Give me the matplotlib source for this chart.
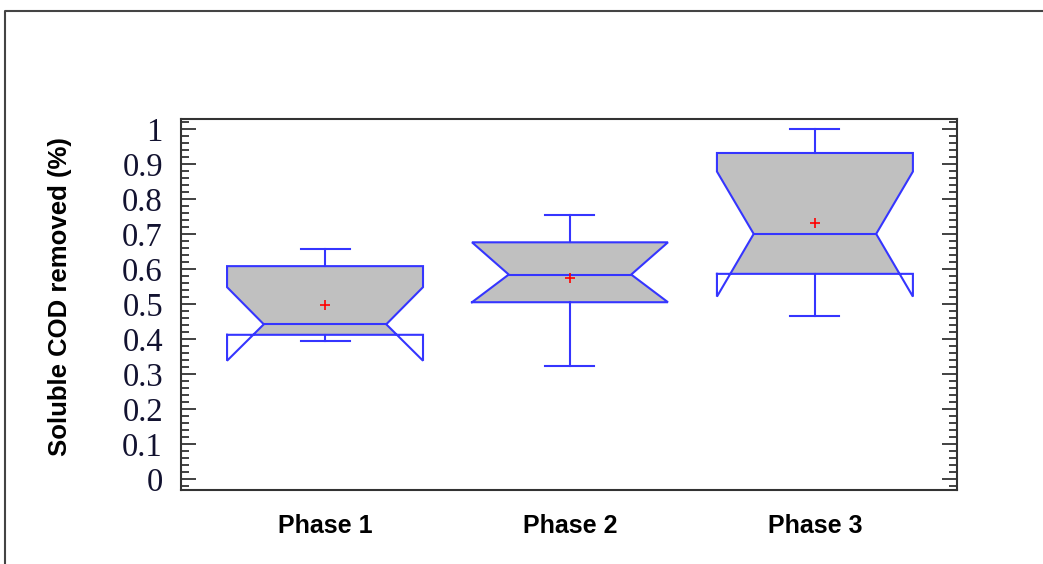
import matplotlib
matplotlib.use("Agg")
import matplotlib.pyplot as plt
from matplotlib.lines import Line2D
from matplotlib.patches import Rectangle
from matplotlib.ticker import MultipleLocator

phases = ['Phase 1', 'Phase 2', 'Phase 3']
whislo = [0.396, 0.325, 0.467]
q1 = [0.413, 0.506, 0.587]
med = [0.443, 0.585, 0.701]
q3 = [0.609, 0.677, 0.932]
whishi = [0.657, 0.755, 1.0]
cilo = [0.339, 0.506, 0.522]
cihi = [0.549, 0.677, 0.879]
means = [0.498, 0.576, 0.731]
yticks = [0, 0.1, 0.2, 0.3, 0.4, 0.5, 0.6, 0.7, 0.8, 0.9, 1]
ytick_labels = ['0', '0.1', '0.2', '0.3', '0.4', '0.5', '0.6', '0.7', '0.8', '0.9', '1']

BLUE = '#3535ff'
FILL = '#c0c0c0'

fig = plt.figure(figsize=(10.43, 5.64), dpi=100)
ax = fig.add_axes([181/1043, 1-490/564, (957-181)/1043, (490-119)/564])

box_w = 0.8
notch_w = 0.5
cap_w = 0.2
for i, pos in enumerate(range(1, len(phases)+1)):
    L, R = pos - box_w/2, pos + box_w/2
    nL, nR = pos - notch_w/2, pos + notch_w/2
    xs = [L, R, R, nR, R, R, L, L, nL, L, L]
    ys = [q1[i], q1[i], cilo[i], med[i], cihi[i], q3[i], q3[i], cihi[i], med[i], cilo[i], q1[i]]
    clip = Rectangle((L, q1[i]), box_w, q3[i]-q1[i], transform=ax.transData)
    polys = ax.fill(xs, ys, color=FILL, lw=0, zorder=1)
    for p in polys:
        p.set_clip_path(clip)
    ax.plot(xs, ys, color=BLUE, lw=1.5, zorder=3, solid_joinstyle='miter')
    ax.plot([nL, nR], [med[i], med[i]], color=BLUE, lw=1.5, zorder=3)
    # whiskers
    ax.plot([pos, pos], [q3[i], whishi[i]], color=BLUE, lw=1.5, zorder=2)
    ax.plot([pos, pos], [q1[i], whislo[i]], color=BLUE, lw=1.5, zorder=2)
    ax.plot([pos-cap_w/2, pos+cap_w/2], [whishi[i]]*2, color=BLUE, lw=1.5, zorder=2)
    ax.plot([pos-cap_w/2, pos+cap_w/2], [whislo[i]]*2, color=BLUE, lw=1.5, zorder=2)
    ax.plot(pos, means[i], marker='+', color='red', ms=7, mew=1.2, zorder=4)

ax.set_xlim(0.412, 3.58)
ax.set_ylim(-0.03, 1.029)
ax.set_xticks(range(1, len(phases)+1))
ax.set_xticklabels(phases, fontfamily='Liberation Sans', fontweight='bold', fontsize=18)
ax.tick_params(axis='x', length=0, pad=17)
ax.set_yticks(yticks)
ax.set_yticklabels(ytick_labels, fontfamily='Liberation Serif', fontsize=23.5, color='#121230')
ax.yaxis.set_minor_locator(MultipleLocator(0.02))
ax.tick_params(axis='y', which='both', direction='in', left=True, right=True,
               color='#333333', width=1.3, pad=13)
ax.tick_params(axis='y', which='major', length=11)
ax.tick_params(axis='y', which='minor', length=5.5)
for s in ax.spines.values():
    s.set_color('#333333')
    s.set_linewidth(1.5)

ax.set_ylabel('Soluble COD removed (%)', fontfamily='Liberation Sans', fontweight='bold', fontsize=18.5)
ax.yaxis.set_label_coords(-0.14, 0.522)

x0 = 5/1043
y0 = 1 - 11/564
fig.add_artist(Line2D([x0, x0, 1.0], [0.0, y0, y0], transform=fig.transFigure,
                      color='#444444', lw=1.5))

fig.savefig('out.png', dpi=100)
